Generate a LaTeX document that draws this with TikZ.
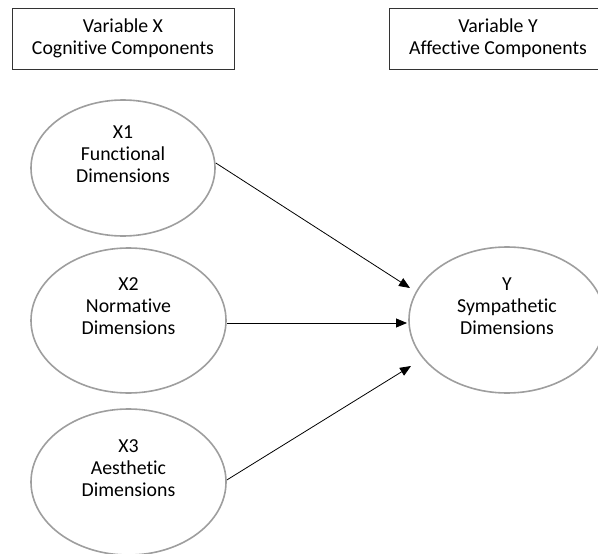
\documentclass[tikz,border=0pt]{standalone}
\usepackage{fontspec}
\setmainfont{Carlito}[Ligatures=NoCommon]
\usetikzlibrary{arrows.meta,shapes.geometric}
\begin{document}
\begin{tikzpicture}[x=1pt,y=-1pt,
  txt/.style={font=\fontsize{19.8}{22}\selectfont, align=center, text=black},
  hdr/.style={txt, draw=black!80, line width=1pt, minimum width=222pt, minimum height=61pt, inner sep=0pt},
  dim/.style={txt, ellipse, draw=black!38, line width=1.6pt, inner sep=0pt},
  link/.style={-{Triangle[length=11pt,width=9pt]}, line width=0.8pt, black}]
\useasboundingbox (0,0) rectangle (598,554);
\clip (0,0) rectangle (598,554);
\node[hdr] (hx) at (123,38.5) {Variable X\\Cognitive Components};
\node[hdr, minimum width=218pt] (hy) at (498,38.5) {Variable Y\\Affective Components};
\node[dim, minimum width=184pt, minimum height=136pt] (x1) at (123,168) {X1\\Functional\\Dimensions\\\strut};
\node[dim, minimum width=195pt, minimum height=145pt] (x2) at (128.5,320.5) {X2\\Normative\\Dimensions\\\strut};
\node[dim, minimum width=195pt, minimum height=146pt] (x3) at (128.5,482) {X3\\Aesthetic\\Dimensions\\\strut};
\node[dim, minimum width=196pt, minimum height=146pt] (y) at (507,320) {Y\\Sympathetic\\Dimensions\\\strut};
\coordinate (t1) at (410,288);
\coordinate (t2) at (407,323);
\coordinate (t3) at (411,366);
\draw[link] ([yshift=5pt]x1.east) -- (t1);
\draw[link] ([yshift=-2.5pt]x2.east) -- (t2);
\draw[link] ([yshift=2pt]x3.east) -- (t3);
\end{tikzpicture}
\end{document}
